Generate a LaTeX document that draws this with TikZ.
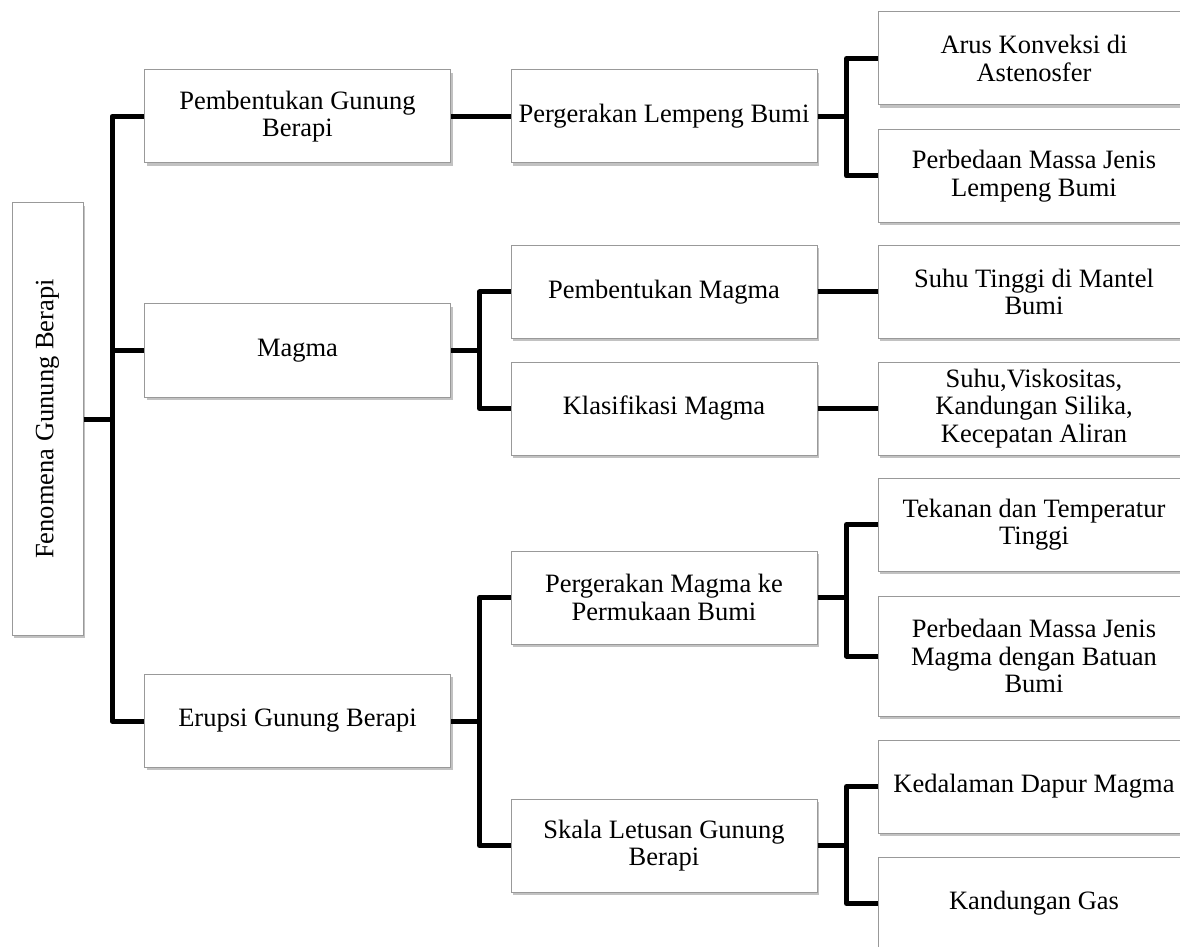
\documentclass[tikz,border=0pt]{standalone}
\usepackage{fontspec}
\setmainfont{Liberation Serif}
\usetikzlibrary{shadows}

\tikzset{
  boxnode/.style={draw=black!40, line width=0.5pt, fill=white,
    drop shadow={shadow xshift=1pt, shadow yshift=-1.3pt, opacity=0.4, fill=black!60},
    align=center, inner sep=2pt,
    minimum width=153pt, minimum height=46.5pt,
    font=\fontsize{13.25}{13.8}\selectfont},
  link/.style={line width=2.5pt, line join=round, black}
}

\begin{document}
\begin{tikzpicture}[x=0.5pt,y=-0.5pt]
    \useasboundingbox (0,0) rectangle (1180,947);

    % root
    \node[boxnode, rotate=90, minimum width=216pt, minimum height=35.5pt] (root) at (47.5,419) {Fenomena Gunung Berapi};

    % level 1
    \node[boxnode] (pgb) at (297.5,116.5) {Pembentukan Gunung\\Berapi};
    \node[boxnode] (mag) at (297.5,350.5) {Magma};
    \node[boxnode] (egb) at (297.5,721) {Erupsi Gunung Berapi};

    % level 2
    \node[boxnode] (plb) at (664,116.5) {Pergerakan Lempeng Bumi};
    \node[boxnode] (pma) at (664,292) {Pembentukan Magma};
    \node[boxnode] (kma) at (664,408.5) {Klasifikasi Magma};
    \node[boxnode] (pmp) at (664,597.5) {Pergerakan Magma ke\\Permukaan Bumi};
    \node[boxnode] (slg) at (664,845.5) {Skala Letusan Gunung\\Berapi};

    % level 3
    \node[boxnode, minimum width=156pt] (akn) at (1034,58.5) {Arus Konveksi di\\Astenosfer};
    \node[boxnode, minimum width=156pt] (pml) at (1034,176) {Perbedaan Massa Jenis\\Lempeng Bumi};
    \node[boxnode, minimum width=156pt] (stm) at (1034,292) {Suhu Tinggi di Mantel\\Bumi};
    \node[boxnode, minimum width=156pt] (svk) at (1034,408.5) {Suhu,Viskositas,\\Kandungan Silika,\\Kecepatan Aliran};
    \node[boxnode, minimum width=156pt] (ttt) at (1034,524.5) {Tekanan dan Temperatur\\Tinggi};
    \node[boxnode, minimum width=156pt, minimum height=60pt] (pmb) at (1034,656) {Perbedaan Massa Jenis\\Magma dengan Batuan\\Bumi};
    \node[boxnode, minimum width=156pt] (kdm) at (1034,786.5) {Kedalaman Dapur Magma};
    \node[boxnode, minimum width=156pt] (kgs) at (1034,903.5) {Kandungan Gas};

    % root to level 1
    \draw[link] (root.south) -- ++(30,0);
    \draw[link] (pgb.west) -- ++(-32,0) |- (egb.west);
    \draw[link] (mag.west) -- ++(-32,0);

    % level 1 to level 2
    \draw[link] (pgb.east) -- (plb.west);
    \draw[link] (mag.east) -- ++(30,0);
    \draw[link] (pma.west) -- ++(-31,0) |- (kma.west);
    \draw[link] (egb.east) -- ++(30,0);
    \draw[link] (pmp.west) -- ++(-31,0) |- (slg.west);

    % level 2 to level 3
    \draw[link] (plb.east) -- ++(30,0);
    \draw[link] (akn.west) -- ++(-31,0) |- (pml.west);
    \draw[link] (pma.east) -- (stm.west);
    \draw[link] (kma.east) -- (svk.west);
    \draw[link] (pmp.east) -- ++(30,0);
    \draw[link] (ttt.west) -- ++(-31,0) |- (pmb.west);
    \draw[link] (slg.east) -- ++(30,0);
    \draw[link] (kdm.west) -- ++(-31,0) |- (kgs.west);
\end{tikzpicture}
\end{document}
